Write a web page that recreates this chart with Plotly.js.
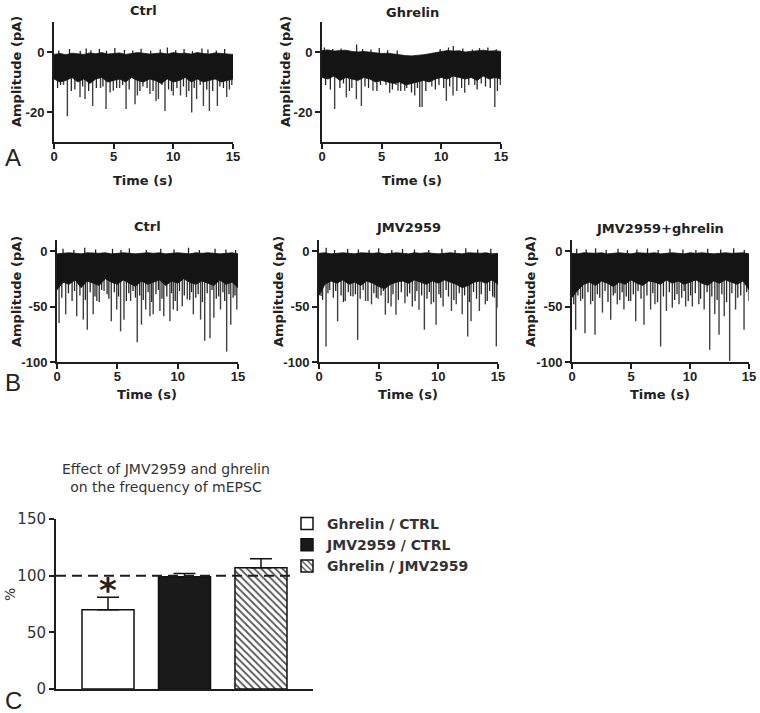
<!DOCTYPE html>
<html>
<head>
<meta charset="utf-8">
<script src="https://cdn.plot.ly/plotly-3.0.1.min.js"></script>
<style>html,body{margin:0;padding:0;background:#fff}#chart{width:760px;height:713px}</style>
</head>
<body>
<div id="chart"></div>
<script>
// ---------- DATA ----------
const envTime = [0,0.5,1,1.5,2,2.5,3,3.5,4,4.5,5,5.5,6,6.5,7,7.5,8,8.5,9,9.5,10,10.5,11,11.5,12,12.5,13,13.5,14,14.5,15];

// Panel A – Ctrl
const aCtrlUpper = [-0.8,-0.5,-0.9,-0.4,-0.6,-0.8,-0.3,-0.6,-0.2,-0.7,-0.5,-0.3,-0.8,-0.5,-0.2,-0.4,-0.7,-0.5,-0.3,-0.7,-0.2,-0.5,-0.4,-0.7,-0.2,-0.5,-0.7,-0.3,-0.5,-0.7,-0.8];
const aCtrlLower = [-9,-10,-9.5,-8.5,-10,-9,-10.5,-9,-8.5,-10,-9.5,-9,-10,-8.5,-9.5,-10,-9,-9.5,-10.5,-9,-10,-9.5,-8.5,-10,-9,-10,-9.5,-9,-10,-9.5,-9];
const aCtrlEventT = [0.8,1.12,2.18,2.6,3.24,3.9,4.36,4.97,5.5,6.04,6.79,6.99,8.04,8.55,8.75,9.3,10.0,10.6,11.1,11.54,11.95,12.52,13.02,13.69,14.47,14.9];
const aCtrlEventV = [-11,-21.4,-15.1,-15.7,-18,-12,-19,-12.9,-12,-19,-17.4,-14.5,-14,-16.3,-15.7,-19.7,-14.5,-14.5,-15,-20.2,-15.7,-18,-19.7,-18,-15,-11];
const aCtrlMinorT = [0.3,0.55,1.45,1.75,2.4,2.9,3.55,4.1,4.7,5.25,5.75,6.3,7.2,7.45,7.8,8.3,9.05,9.6,9.85,10.3,10.85,11.3,11.75,12.25,12.8,13.3,13.9,14.2,14.7];
const aCtrlMinorV = [-12,-11,-13,-12.5,-11.5,-13,-12,-11.5,-13.5,-12,-11,-12.5,-13,-11.5,-12,-13,-11,-12.5,-13,-12,-11.5,-13,-12,-11,-12.5,-13,-11.5,-12,-12.5];
const aCtrlUpT = [0.4,1.3,2.2,2.7,3.1,3.8,4.4,5.1,5.9,6.6,7.3,8.1,8.9,9.5,10.2,10.9,11.6,12.4,12.9,13.6,14.3];
const aCtrlUpV = [0.5,1,0.3,1.2,0.6,1,0.4,1.3,0.7,0.5,1.1,0.4,0.9,1.5,0.6,1,0.3,1.2,0.8,0.5,1];

// Panel A – Ghrelin
const aGhrUpper = [0.5,0.7,0.3,0.5,0.6,0.2,0,0.2,0,-0.3,-0.5,-0.4,-0.7,-1,-1.2,-1.3,-1.2,-0.9,-0.6,-0.3,0.2,0.5,0.3,0.4,0,0.2,0.4,0.6,0.3,0.4,0.2];
const aGhrLower = [-8.5,-9,-8,-9.5,-8.5,-9,-9.5,-8.5,-9,-10,-9.5,-10,-10.5,-10,-11,-10.5,-10,-9.5,-10,-9,-8.5,-9,-8,-8.5,-9,-8.5,-9.5,-8,-9,-8.5,-9];
const aGhrEventT = [1.06,2.04,2.5,2.88,3.3,4.27,5.36,5.67,6.37,6.93,7.77,8.19,8.39,9.2,10.42,10.98,11.96,12.8,13.35,14.48,14.95];
const aGhrEventV = [-19,-15.1,-12,-15.7,-18,-12.9,-11,-13.6,-12.9,-12.9,-14.5,-18.3,-18.3,-11.5,-16.3,-14.5,-13.6,-11,-10.5,-18.3,-11];
const aGhrMinorT = [0.3,0.7,1.5,1.8,2.3,3.6,3.9,4.6,4.9,5.9,6.2,6.6,7.1,7.5,8.0,8.7,9.5,9.8,10.2,10.7,11.3,11.7,12.3,13.0,13.7,14.1,14.7];
const aGhrMinorV = [-11,-12.5,-12,-10.5,-13,-11.5,-12,-13,-11,-12.5,-11,-13,-12,-13.5,-12,-13,-12.5,-11,-12,-11.5,-13,-12,-11,-12.5,-11.5,-12,-13];
const aGhrUpT = [0.2,0.9,1.6,2.9,3.4,4.1,4.8,5.5,6.3,9.9,10.6,11.0,11.8,12.6,13.2,13.9,14.6];
const aGhrUpV = [1.5,1,1.2,2.5,1,0.8,1.3,0.6,0.5,1,1.5,2,1.2,0.8,1.3,1.5,0.9];

// Panel B – Ctrl
const bCtrlUpper = [-2.5,-2,-1.5,-2,-2.5,-1.5,-2,-2,-1.5,-2.5,-2,-1.5,-2,-2.5,-2,-1.5,-2,-1.5,-2.5,-2,-1.5,-2,-2.5,-1.5,-2,-1.5,-2,-2.5,-2,-1.5,-2.5];
const bCtrlLower = [-35,-28,-30,-26,-33,-27,-29,-31,-25,-28,-30,-26,-29,-32,-27,-30,-28,-26,-31,-27,-29,-25,-28,-30,-27,-29,-31,-26,-30,-28,-33];
const bCtrlEventT = [0.17,0.72,1.63,2.18,2.51,3.0,3.3,3.9,4.5,4.95,5.27,5.55,6.1,6.65,7.0,7.35,7.7,7.97,8.53,8.85,9.36,9.64,9.97,10.38,10.8,11.3,11.9,12.24,12.68,13.0,13.55,14.06,14.4,14.9];
const bCtrlEventV = [-64.8,-57,-58.8,-61.8,-70.9,-57,-45,-36,-63.3,-52.7,-72.4,-61.8,-45,-82.1,-66.4,-52.7,-58.8,-57,-54,-58.8,-63.3,-52.7,-54,-49.7,-43.6,-57,-61.8,-80.9,-78.5,-60,-52.7,-90.6,-66.4,-52.7];
const bCtrlMinorT = [0.4,0.95,1.25,1.45,1.9,2.35,2.75,3.15,3.5,3.7,4.15,4.3,4.75,5.1,5.75,5.95,6.3,6.5,6.85,7.15,7.55,7.85,8.2,8.4,8.7,9.1,9.5,9.8,10.15,10.55,11.0,11.15,11.5,11.7,12.05,12.45,12.85,13.2,13.4,13.75,13.9,14.25,14.6,14.75];
const bCtrlMinorV = [-42,-38,-45,-36,-40,-44,-37,-41,-46,-35,-39,-43,-37,-41,-45,-38,-36,-42,-40,-44,-37,-46,-39,-35,-43,-41,-38,-45,-36,-40,-44,-37,-42,-39,-46,-38,-35,-43,-41,-37,-45,-39,-42,-40];
const bCtrlUpT = [0.5,1.4,2.3,3.2,4.6,5.3,6.0,7.4,8.6,9.7,10.9,11.8,13.1,14.0,14.8];
const bCtrlUpV = [2,1,3,1.5,2,1,2.5,1,2,1.5,3,1,2,1.5,1];

// Panel B – JMV2959
const bJmvUpper = [-2,-1.5,-2.5,-2,-1.5,-2,-2.5,-1.5,-2,-2,-1.5,-2.5,-2,-1.5,-2,-2.5,-1.5,-2,-1.5,-2,-2.5,-2,-1.5,-2,-2.5,-1.5,-2,-2,-1.5,-2.5,-2];
const bJmvLower = [-40,-30,-27,-29,-26,-30,-28,-31,-27,-29,-32,-34,-30,-28,-27,-29,-26,-28,-30,-27,-29,-26,-28,-30,-33,-31,-28,-27,-29,-26,-30];
const bJmvEventT = [0.17,0.59,0.9,1.56,2.2,2.65,3.24,3.9,4.4,4.95,5.56,6.04,6.45,7.2,7.82,8.38,8.83,9.4,9.81,10.4,11.1,11.5,12.0,12.46,12.74,13.44,13.94,14.86,15.0];
const bJmvEventV = [-40.6,-86,-35,-63.3,-45,-40.6,-80,-45,-48,-43,-57.3,-50,-57.3,-47,-50,-53,-70.9,-48,-66.4,-50,-54,-48,-57,-77,-63.3,-54,-48,-86,-51];
const bJmvMinorT = [0.3,0.75,1.2,1.4,1.85,2.05,2.45,2.85,3.05,3.45,3.7,4.1,4.6,4.8,5.2,5.4,5.8,6.2,6.65,6.9,7.4,7.6,8.05,8.2,8.6,9.05,9.25,9.6,10.05,10.2,10.65,10.85,11.3,11.75,12.2,12.6,12.95,13.2,13.6,14.1,14.3,14.55,14.7];
const bJmvMinorV = [-44,-38,-42,-36,-40,-46,-37,-41,-39,-43,-35,-45,-38,-42,-40,-36,-47,-39,-44,-37,-41,-38,-45,-36,-40,-43,-37,-46,-39,-42,-35,-41,-44,-38,-40,-46,-37,-43,-39,-45,-36,-41,-42];
const bJmvUpT = [0.6,1.3,2.4,3.3,4.2,5.0,6.1,7.0,8.0,9.2,10.3,11.4,12.3,13.3,14.4];
const bJmvUpV = [3,1,2,1.5,1,2.5,1,2,1.5,1,2,1,2.5,1.5,2];

// Panel B – JMV2959+ghrelin
const bJgUpper = [-2,-2.5,-1.5,-2,-2,-1.5,-2.5,-2,-1.5,-2,-2.5,-1.5,-2,-2,-1.5,-2.5,-2,-1.5,-2,-2.5,-1.5,-2,-1.5,-2,-2.5,-2,-1.5,-2,-2,-1.5,-2.5];
const bJgLower = [-42,-35,-30,-28,-31,-27,-29,-32,-28,-30,-26,-29,-31,-27,-28,-30,-26,-29,-27,-30,-28,-26,-29,-31,-27,-29,-26,-28,-30,-27,-35];
const bJgEventT = [0.31,0.73,1.1,1.58,1.95,2.58,3.28,3.84,4.4,4.97,5.4,6.1,6.66,7.03,7.51,8.0,8.5,9.07,9.63,10.2,10.75,11.2,11.67,12.1,12.46,12.9,13.36,13.86,14.58,15.0];
const bJgEventV = [-70.9,-45,-74,-48,-75.5,-55.5,-61.8,-48,-52.7,-45,-63.3,-66.4,-52.7,-48,-86,-54,-51,-48,-50,-50,-48,-52.7,-89,-57,-75.5,-58.8,-99,-52.7,-70.9,-45];
const bJgMinorT = [0.15,0.5,0.9,1.35,1.75,2.15,2.35,2.8,3.05,3.5,3.65,4.05,4.25,4.6,4.8,5.2,5.6,5.85,6.35,6.85,7.25,7.75,8.25,8.7,8.9,9.3,9.5,9.85,10.05,10.45,10.9,11.45,11.85,12.3,12.7,13.1,13.55,14.05,14.3,14.8];
const bJgMinorV = [-48,-40,-43,-37,-45,-39,-42,-36,-46,-40,-38,-44,-37,-41,-45,-39,-36,-43,-40,-38,-46,-41,-37,-44,-39,-42,-36,-45,-40,-38,-43,-37,-41,-44,-39,-46,-38,-42,-40,-37];
const bJgUpT = [0.4,1.2,2.0,2.9,3.9,4.7,5.5,6.4,7.3,8.3,9.4,10.5,11.5,12.6,13.7,14.6];
const bJgUpV = [2,1.5,2.5,1,2,1,1.5,2.5,1,2,1.5,1,2,1.5,2.5,1];

// Panel C – bar chart
const barNames = ['Ghrelin / CTRL','JMV2959 / CTRL','Ghrelin / JMV2959'];
const barPos = [0,1,2];
const barPct = [70,99,107];
const barErr = [11,3,8];

const timeTicks = [0,5,10,15];
const aTicks = [0,-20];
const bTicks = [0,-50,-100];
const cTicks = [0,50,100,150];

// ---------- BUILD ----------
const W = 760, H = 713;
const px = v => v / W, py = v => 1 - v / H;
const INK = '#1e1e1e';

function strokes(tArr, vArr, base) {
  const sx = [], sy = [];
  tArr.forEach((t, i) => { sx.push(t, t, null); sy.push(base, vArr[i], null); });
  return {x:sx, y:sy};
}
function recording(p, base, xa, ya) {
  const bx = envTime.concat(envTime.slice().reverse());
  const by = p.upper.concat(p.lower.slice().reverse());
  const minor = strokes(p.minorT.concat(p.upT), p.minorV.concat(p.upV), base);
  const major = strokes(p.evT, p.evV, base);
  return [
    {type:'scatter', mode:'lines', x:major.x, y:major.y, line:{color:'#404040', width:1.4},
     xaxis:xa, yaxis:ya, showlegend:false, hoverinfo:'skip'},
    {type:'scatter', mode:'lines', x:minor.x, y:minor.y, line:{color:'#262626', width:1.3},
     xaxis:xa, yaxis:ya, showlegend:false, hoverinfo:'skip'},
    {type:'scatter', mode:'lines', x:bx, y:by, fill:'toself', fillcolor:'#141414',
     line:{color:'#141414', width:0.8}, xaxis:xa, yaxis:ya, showlegend:false, hoverinfo:'skip'}
  ];
}

const data = [].concat(
  recording({upper:aCtrlUpper, lower:aCtrlLower, evT:aCtrlEventT, evV:aCtrlEventV, minorT:aCtrlMinorT, minorV:aCtrlMinorV, upT:aCtrlUpT, upV:aCtrlUpV}, -5, 'x', 'y'),
  recording({upper:aGhrUpper, lower:aGhrLower, evT:aGhrEventT, evV:aGhrEventV, minorT:aGhrMinorT, minorV:aGhrMinorV, upT:aGhrUpT, upV:aGhrUpV}, -5, 'x2', 'y2'),
  recording({upper:bCtrlUpper, lower:bCtrlLower, evT:bCtrlEventT, evV:bCtrlEventV, minorT:bCtrlMinorT, minorV:bCtrlMinorV, upT:bCtrlUpT, upV:bCtrlUpV}, -15, 'x3', 'y3'),
  recording({upper:bJmvUpper, lower:bJmvLower, evT:bJmvEventT, evV:bJmvEventV, minorT:bJmvMinorT, minorV:bJmvMinorV, upT:bJmvUpT, upV:bJmvUpV}, -15, 'x4', 'y4'),
  recording({upper:bJgUpper, lower:bJgLower, evT:bJgEventT, evV:bJgEventV, minorT:bJgMinorT, minorV:bJgMinorV, upT:bJgUpT, upV:bJgUpV}, -15, 'x5', 'y5')
);

const fills = [
  {color:'#ffffff', pattern:null},
  {color:'#1a1a1a', pattern:null},
  {color:'#ffffff', pattern:{shape:'\\', bgcolor:'#ffffff', fgcolor:'#555555', size:5, solidity:0.35}}
];
barNames.forEach((n, i) => {
  const m = {color:fills[i].color, line:{color:'#111', width:1.5}};
  if (fills[i].pattern) m.pattern = fills[i].pattern;
  data.push({type:'bar', name:n, x:[barPos[i]], y:[barPct[i]], width:0.68, marker:m,
    error_y:{type:'data', symmetric:false, array:[barErr[i]], arrayminus:[0], color:'#111', thickness:1.5, width:11},
    xaxis:'x6', yaxis:'y6', hoverinfo:'skip'});
});

const tfont = {family:'Liberation Sans', size:13, weight:'bold', color:'#222'};
function xAx(l, r, anchor) {
  return {domain:[px(l), px(r)], anchor:anchor, range:[0,15], tickvals:timeTicks, ticktext:timeTicks.map(String),
    ticks:'outside', ticklen:5, tickwidth:2, tickcolor:INK, showline:true, linewidth:2, linecolor:INK,
    showgrid:false, zeroline:false, tickfont:tfont, ticklabelstandoff:-4, fixedrange:true};
}
function yAx(b, t, range, tv, anchor) {
  return {domain:[py(b), py(t)], anchor:anchor, range:range, tickvals:tv, ticktext:tv.map(String),
    ticks:'outside', ticklen:5, tickwidth:2, tickcolor:INK, showline:true, linewidth:2, linecolor:INK,
    showgrid:false, zeroline:false, tickfont:tfont, fixedrange:true};
}

const ann = [];
function label(text, x, y, size, opts) {
  ann.push(Object.assign({text:text, x:px(x), y:py(y), xref:'paper', yref:'paper', showarrow:false,
    xanchor:'center', yanchor:'middle', font:{family:'DejaVu Sans', size:size, weight:'bold', color:'#222'}}, opts || {}));
}
// panel titles
label('Ctrl', 143, 10, 13);
label('Ghrelin', 412, 12, 13);
label('Ctrl', 147, 226, 13);
label('JMV2959', 408, 227, 13);
label('JMV2959+ghrelin', 660, 228, 13);
// axis titles
[[16,72],[285,72],[16,292],[278,292],[530,292]].forEach(p => label('Amplitude (pA)', p[0], p[1], 13, {textangle:-90}));
[[143,180],[412,180],[147,394],[408,394],[660,394]].forEach(p => label('Time (s)', p[0], p[1], 13));
// panel letters
[['A',157],['B',383],['C',700]].forEach(p => label(p[0], 13, p[1], 24, {font:{family:'Liberation Sans', size:24, color:'#222'}}));
// panel C texts
label('Effect of JMV2959 and ghrelin<br>on the frequency of mEPSC', 166, 478, 14, {font:{family:'DejaVu Sans', size:14, color:'#333'}});
label('%', 10, 595, 14, {textangle:-90, font:{family:'DejaVu Sans', size:14, color:'#333'}});
ann.push({text:'*', x:barPos[0], y:87, xref:'x6', yref:'y6', showarrow:false, xanchor:'center', yanchor:'middle',
  font:{family:'DejaVu Sans', size:34, weight:'bold', color:'#222'}});

const layout = {
  width:W, height:H, margin:{l:0, r:0, t:0, b:0}, paper_bgcolor:'#fff', plot_bgcolor:'rgba(0,0,0,0)',
  showlegend:true, barmode:'overlay',
  xaxis: xAx(54, 233, 'y'),   yaxis: yAx(142, 22, [-30,10], aTicks, 'x'),
  xaxis2: xAx(322, 501, 'y2'), yaxis2: yAx(142, 22, [-30,10], aTicks, 'x2'),
  xaxis3: xAx(57, 238, 'y3'),  yaxis3: yAx(362, 240, [-100,10], bTicks, 'x3'),
  xaxis4: xAx(319, 498, 'y4'), yaxis4: yAx(362, 240, [-100,10], bTicks, 'x4'),
  xaxis5: xAx(572, 749, 'y5'), yaxis5: yAx(362, 240, [-100,10], bTicks, 'x5'),
  xaxis6: {domain:[px(56), px(313)], anchor:'y6', range:[-0.68,2.68], showline:true, linewidth:2, linecolor:INK,
    ticks:'', showticklabels:false, showgrid:false, zeroline:false, fixedrange:true},
  yaxis6: {domain:[py(689), py(519)], anchor:'x6', range:[0,150], tickvals:cTicks, ticktext:cTicks.map(String),
    ticks:'outside', ticklen:5, tickwidth:2, tickcolor:INK, showline:true, linewidth:2, linecolor:INK,
    showgrid:false, zeroline:false, tickfont:{family:'DejaVu Sans', size:15, color:'#333'}, fixedrange:true},
  shapes:[{type:'line', xref:'paper', yref:'y6', x0:px(56), x1:px(293), y0:100, y1:100,
    line:{color:INK, width:2, dash:'10px,6px'}}],
  legend:{x:px(287), y:py(508), xanchor:'left', yanchor:'top', bgcolor:'rgba(0,0,0,0)',
    font:{family:'DejaVu Sans', size:14, weight:'bold', color:'#333'}, tracegroupgap:0},
  annotations: ann
};

Plotly.newPlot('chart', data, layout, {staticPlot:true, displayModeBar:false});
</script>
</body>
</html>
